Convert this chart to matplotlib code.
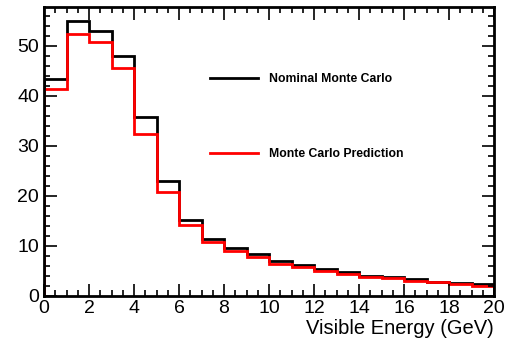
import numpy as np
import matplotlib.pyplot as plt
from matplotlib.ticker import MultipleLocator

plt.rcParams['font.family'] = ['Liberation Sans', 'DejaVu Sans']

# bin edges in GeV and bin contents
edges = np.arange(0, 21, 1)
nominal = [43.4, 54.9, 53.0, 48.0, 35.7, 22.9, 15.2, 11.4, 9.6, 8.5,
           7.0, 6.3, 5.5, 4.9, 4.1, 3.8, 3.4, 2.9, 2.6, 2.5]
prediction = [41.4, 52.4, 50.8, 45.5, 32.3, 20.7, 14.1, 10.8, 9.0, 7.9,
              6.5, 5.9, 5.1, 4.5, 3.8, 3.6, 3.0, 2.8, 2.5, 2.1]

fig = plt.figure(figsize=(5.05, 3.42), dpi=100)
ax = fig.add_axes([44 / 505, 46 / 342, 450 / 505, 289 / 342])

ax.stairs(nominal, edges, color='black', linewidth=2, label='Nominal Monte Carlo')
ax.stairs(prediction, edges, color='red', linewidth=2, label='Monte Carlo Prediction')

ax.set_xlim(0, 20)
ax.set_ylim(0, 57.8)
ax.xaxis.set_major_locator(MultipleLocator(2))
ax.xaxis.set_minor_locator(MultipleLocator(0.5))
ax.yaxis.set_major_locator(MultipleLocator(10))
ax.yaxis.set_minor_locator(MultipleLocator(2))
ax.tick_params(which='both', direction='in', top=True, right=True, width=1.2,
               labelsize=14)
ax.tick_params(which='major', length=9)
ax.tick_params(which='minor', length=4.5)
ax.tick_params(axis='x', pad=3)
for s in ax.spines.values():
    s.set_linewidth(2)

ax.set_xlabel('Visible Energy (GeV)', fontsize=14.5, loc='right', labelpad=1)

leg = ax.legend(loc='upper left', bbox_to_anchor=(0.345, 0.81), frameon=False,
                prop={'size': 8.8, 'weight': 'bold'}, handlelength=3.9,
                handletextpad=0.9, labelspacing=5.2)

fig.savefig('out.png', dpi=100)
